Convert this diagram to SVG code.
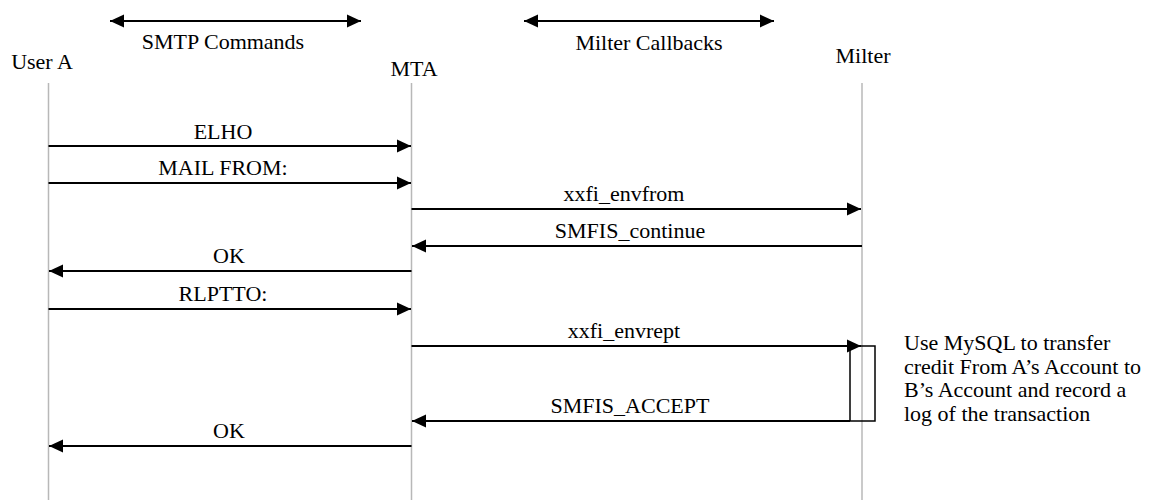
<svg xmlns="http://www.w3.org/2000/svg" width="1157" height="500" viewBox="0 0 1157 500" font-family="'Liberation Serif', Tinos, 'Times New Roman', Times, 'DejaVu Serif', serif">
<style>
text{font-family:'Liberation Serif', Tinos, 'Times New Roman', Times, 'DejaVu Serif', serif;font-size:22px;fill:#000}
.c{text-anchor:middle}
.life{stroke:#b8b8b8;stroke-width:1.5;fill:none}
.msg{stroke:#000;stroke-width:2;fill:none;marker-end:url(#ah)}
.dbl{stroke:#000;stroke-width:2;fill:none;marker-end:url(#ah);marker-start:url(#ahs)}
</style>
<defs>
<marker id="ah" markerUnits="userSpaceOnUse" markerWidth="14" markerHeight="14" viewBox="0 0 12 12" refX="12" refY="6" orient="auto">
<path d="M0,0.5 L12,6 L0,11.5 Z" fill="#000"/>
</marker>
<marker id="ahs" markerUnits="userSpaceOnUse" markerWidth="14" markerHeight="14" viewBox="0 0 12 12" refX="0" refY="6" orient="auto">
<path d="M12,0.5 L0,6 L12,11.5 Z" fill="#000"/>
</marker>
</defs>
<rect width="1157" height="500" fill="#fff"/>
<g id="userA">
<text x="42" y="69" class="c">User A</text>
<line class="life" x1="48.5" y1="83" x2="48.5" y2="500"/>
</g>
<g id="mta">
<text x="414" y="76" class="c">MTA</text>
<line class="life" x1="411.5" y1="83" x2="411.5" y2="500"/>
</g>
<g id="milter">
<text x="863" y="63" class="c">Milter</text>
<line class="life" x1="862" y1="83" x2="862" y2="500"/>
</g>
<g id="activation">
<rect x="850" y="346" width="25" height="75" fill="none" stroke="#000" stroke-width="1.5"/>
</g>
<g id="note">
<text x="904" y="350">Use MySQL to transfer</text>
<text x="904" y="373.5">credit From A’s Account to</text>
<text x="904" y="397">B’s Account and record a</text>
<text x="904" y="420.5">log of the transaction</text>
</g>
<g id="legend">
<line class="dbl" x1="110" y1="21" x2="361" y2="21"/>
<text x="223" y="49" class="c">SMTP Commands</text>
<line class="dbl" x1="524" y1="21" x2="774" y2="21"/>
<text x="649" y="50" class="c">Milter Callbacks</text>
</g>
<g id="connectors">
<line class="msg" x1="48.5" y1="146" x2="411" y2="146"/>
<text x="223" y="139" class="c">ELHO</text>
<line class="msg" x1="48.5" y1="183" x2="411" y2="183"/>
<text x="223" y="175" class="c">MAIL FROM:</text>
<line class="msg" x1="411.5" y1="209" x2="861" y2="209"/>
<text x="624" y="201" class="c">xxfi_envfrom</text>
<line class="msg" x1="862" y1="246" x2="412" y2="246"/>
<text x="630" y="238" class="c">SMFIS_continue</text>
<line class="msg" x1="411.5" y1="271" x2="49" y2="271"/>
<text x="229" y="263" class="c">OK</text>
<line class="msg" x1="48.5" y1="309" x2="411" y2="309"/>
<text x="223" y="301" class="c">RLPTTO:</text>
<line class="msg" x1="411.5" y1="346" x2="861" y2="346"/>
<text x="624" y="338" class="c">xxfi_envrept</text>
<line class="msg" x1="850" y1="421" x2="412" y2="421"/>
<text x="630" y="413" class="c">SMFIS_ACCEPT</text>
<line class="msg" x1="411.5" y1="446" x2="49" y2="446"/>
<text x="229" y="438" class="c">OK</text>
</g>
</svg>
